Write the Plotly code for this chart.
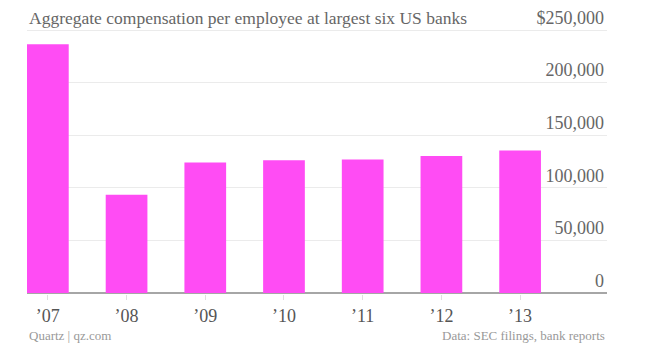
import plotly.graph_objects as go

years = ["’07", "’08", "’09", "’10", "’11", "’12", "’13"]
comp = [236500, 93500, 124000, 126300, 127000, 130300, 135500]
ytick_vals = [0, 50000, 100000, 150000, 200000, 250000]
ytick_text = ["0", "50,000", "100,000", "150,000", "200,000", "$250,000"]

title = "Aggregate compensation per employee at largest six US banks"
source_left = "Quartz | qz.com"
source_right = "Data: SEC filings, bank reports"

FONT = "Liberation Serif"
W, H = 661, 352
ml, mb = 27, 42
ph = H - mb
y0_px, y250_px = 293, 30
ytop = 275000
top_px = y0_px - (y0_px - y250_px) * ytop / 250000
dom0 = (ph - y0_px) / ph
dom1 = (ph - top_px) / ph
xpos = (ph - 294) / ph
xr = (607 - ml) / (W - ml)

xs = list(range(len(years)))
fig = go.Figure(go.Bar(x=xs, y=comp, width=0.53, marker=dict(color="#ff4cf4", line=dict(width=0)),
                       hoverinfo="skip"))

fig.update_layout(
    width=W, height=H, margin=dict(t=0, b=mb, l=ml, r=0),
    paper_bgcolor="white", plot_bgcolor="white", showlegend=False,
    xaxis=dict(domain=[0, xr], range=[-0.265, 7.104], tickvals=xs, ticktext=years, anchor="free", position=xpos,
               showgrid=False, zeroline=False, showline=False, ticks="outside", ticklen=5,
               tickcolor="#e0e0e0", tickwidth=1,
               tickfont=dict(family=FONT, size=18, color="#555555")),
    yaxis=dict(domain=[dom0, dom1], range=[0, ytop], side="right", tickvals=ytick_vals, ticktext=ytick_text,
               ticklabelposition="inside top", showgrid=True, gridcolor="#ebebeb", gridwidth=1,
               zeroline=True, zerolinecolor="#a6a6a6", zerolinewidth=2, showline=False, ticks="",
               tickfont=dict(family=FONT, size=18, color="#666666")),
    annotations=[
        dict(text=title, xref="paper", yref="y", x=0, y=250000, xanchor="left", yanchor="bottom",
             yshift=0, showarrow=False, font=dict(family=FONT, size=17.5, color="#666666")),
        dict(text=source_left, xref="paper", yref="paper", x=0, y=0, xanchor="left", yanchor="middle",
             yshift=-(335 - ph), showarrow=False, font=dict(family=FONT, size=13, color="#999999")),
        dict(text=source_right, xref="paper", yref="paper", x=xr, y=0, xanchor="right", yanchor="middle",
             yshift=-(335 - ph), showarrow=False, font=dict(family=FONT, size=13, color="#999999")),
    ],
)
fig.write_html("out.html")
